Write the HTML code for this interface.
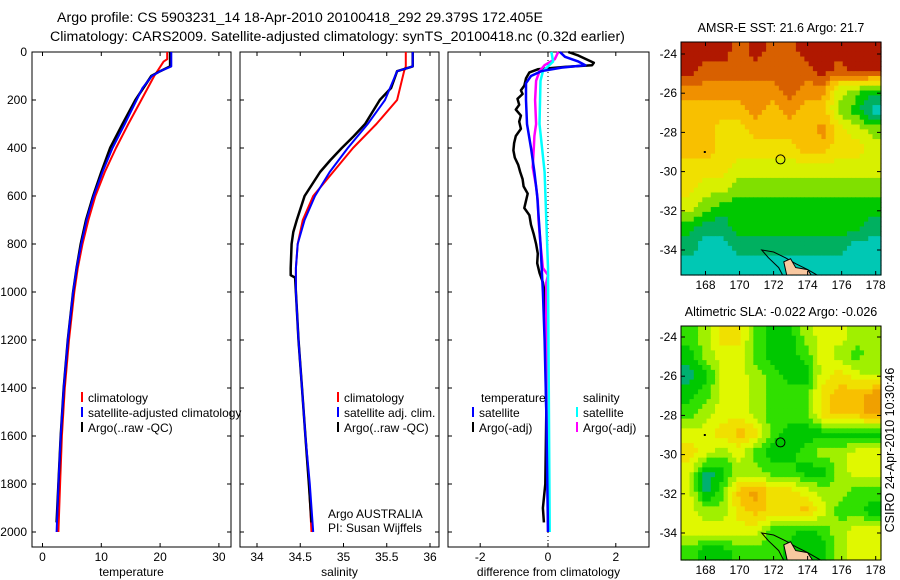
<!DOCTYPE html>
<html><head><meta charset="utf-8"><style>
body{margin:0;background:#fff}
svg{display:block;font-family:"Liberation Sans",sans-serif}
</style></head><body>
<svg id="fig" width="900" height="580" xmlns="http://www.w3.org/2000/svg">
<rect width="900" height="580" fill="#fff"/>
<text x="57" y="22" font-size="14.2">Argo profile: CS 5903231_14 18-Apr-2010 20100418_292 29.379S 172.405E</text>
<text x="50" y="41" font-size="14.2">Climatology: CARS2009. Satellite-adjusted climatology: synTS_20100418.nc (0.32d earlier)</text>
<g id="plots"></g>
<text x="781" y="32" font-size="12.5" text-anchor="middle">AMSR-E SST: 21.6 Argo: 21.7</text>
<text x="781" y="316" font-size="12.5" text-anchor="middle">Altimetric SLA: -0.022 Argo: -0.026</text>
<text transform="translate(894,450) rotate(-90)" font-size="12.5" text-anchor="middle">CSIRO 24-Apr-2010 10:30:46</text>
<text x="328" y="518" font-size="12">Argo AUSTRALIA</text>
<text x="328" y="532" font-size="12">PI: Susan Wijffels</text>
</svg>
<script>
// ---------- data ----------
const tempClimDepth=[0,30,40,70,100,200,300,400,500,600,700,800,900,1000,1200,1400,1600,1800,2000];
const tempClim=[21.2,21.2,20.6,19.8,19.0,16.8,14.6,12.5,10.6,9.0,7.8,6.8,6.0,5.4,4.5,3.8,3.3,3.0,2.7];
const tempSatDepth=[0,60,80,100,150,200,300,400,500,600,700,800,900,1000,1200,1400,1600,1800,2000];
const tempSat=[21.9,21.9,20.0,18.6,17.0,16.0,14.0,11.9,10.2,8.7,7.5,6.6,5.8,5.2,4.3,3.6,3.1,2.7,2.4];
const tempArgoDepth=[0,60,80,100,200,300,400,500,600,700,800,900,1000,1200,1400,1600,1800,1960];
const tempArgo=[21.7,21.7,20.0,18.5,15.8,13.6,11.5,10.0,8.6,7.4,6.5,5.8,5.2,4.3,3.6,3.1,2.7,2.4];

const salClimDepth=[0,60,80,200,300,400,500,600,700,800,900,1000,1200,1400,1600,1800,2000];
const salClim=[35.72,35.72,35.70,35.62,35.38,35.11,34.88,34.65,34.53,34.47,34.45,34.45,34.48,34.52,34.56,34.60,34.63];
const salSatDepth=[0,60,80,200,300,400,500,600,700,800,900,1000,1200,1400,1600,1800,2000];
const salSat=[35.80,35.80,35.62,35.48,35.28,35.05,34.84,34.67,34.55,34.47,34.45,34.45,34.48,34.52,34.56,34.61,34.65];
const salArgoDepth=[0,60,80,150,200,300,350,400,450,500,600,700,750,800,900,930,940,1000,1200,1400,1600,1800,1960];
const salArgo=[35.80,35.80,35.62,35.55,35.42,35.25,35.12,34.98,34.85,34.73,34.55,34.46,34.42,34.40,34.39,34.39,34.44,34.45,34.48,34.52,34.56,34.60,34.63];

const dTempSatDepth=[0,20,40,55,65,80,100,130,200,300,400,500,600,800,1000,1200,1500,2000];
const dTempSat=[0.35,0.5,0.9,1.1,0.4,-0.2,-0.5,-0.65,-0.65,-0.62,-0.5,-0.4,-0.32,-0.22,-0.15,-0.1,-0.05,0.0];
const dTempArgoDepth=[0,15,45,55,62,72,85,110,140,160,175,195,220,240,265,290,320,350,380,410,440,470,500,530,560,590,620,650,680,720,760,800,840,880,920,960,1000,1200,1500,1800,1900,1960];
const dTempArgo=[0.6,0.9,1.35,1.3,0.5,-0.3,-0.55,-0.65,-0.7,-0.8,-0.75,-0.9,-0.85,-0.95,-0.8,-0.85,-0.8,-0.95,-1.0,-1.02,-0.98,-0.88,-0.82,-0.75,-0.72,-0.6,-0.65,-0.7,-0.55,-0.5,-0.42,-0.35,-0.3,-0.32,-0.25,-0.15,-0.1,-0.08,-0.05,-0.08,-0.15,-0.12];
const dSalSatDepth=[0,40,60,80,120,300,500,700,900,2000];
const dSalSat=[0.1,0.15,0.0,-0.15,-0.22,-0.25,-0.1,-0.05,0.0,0.05];
const dSalArgoDepth=[0,30,55,80,120,200,300,350,400,480,560,620,700,800,900,930,960,1000,1200,2000];
const dSalArgo=[0.3,0.2,-0.1,-0.25,-0.35,-0.38,-0.35,-0.4,-0.42,-0.45,-0.35,-0.3,-0.28,-0.22,-0.15,0.0,-0.05,-0.05,-0.05,0.0];

const depthTicks=[0,200,400,600,800,1000,1200,1400,1600,1800,2000];
const tempTicks=[0,10,20,30];
const salTicks=[34,34.5,35,35.5,36];
const diffTicks=[-2,0,2];
const latTicks=[-24,-26,-28,-30,-32,-34];
const lonTicks=[168,170,172,174,176,178];

const sstGrid=["999898899999","988888889899","777777877432","666676766320","665566667543","665555566554","555444444444","544333333333","432222222222","211222222221","100111111100","000000000000"];
const slaGrid=["235521134433","134421124323","014432114543","124432225667","234432225667","445652111111","543421123344","401332211344","402675543322","433565564221","444442212344","211222111344"];
const argoLon=172.405, argoLat=-29.379;

// ---------- helpers ----------
const NS="http://www.w3.org/2000/svg";
const root=document.getElementById('plots');
function mk(tag,attrs,parent){const e=document.createElementNS(NS,tag);for(const k in attrs)e.setAttribute(k,attrs[k]);(parent||root).appendChild(e);return e;}
const Y0=52, Yb=547;
const yD=d=>Y0+d*0.24;
const xT=v=>42.5+v*5.88;
const xS=v=>257+(v-34)*86.5;
const xDf=v=>548+v*33.9;

function frame(x0,x1,name,xticks,xf,xlabel,yLabels){
  const g=mk('g',{});
  
  
  mk('rect',{x:x0,y:Y0,width:x1-x0,height:Yb-Y0,fill:'none',stroke:'#000','stroke-width':1},g);
  depthTicks.forEach(d=>{const y=yD(d);
    mk('line',{x1:x0,x2:x0+4,y1:y,y2:y,stroke:'#000'},g);
    mk('line',{x1:x1,x2:x1-4,y1:y,y2:y,stroke:'#000'},g);
    if(yLabels){const t=mk('text',{x:x0-5,y:y+4,'font-size':12,'text-anchor':'end'},g);t.textContent=d;
      
      }
  });
  xticks.forEach(v=>{const x=xf(v);
    mk('line',{x1:x,x2:x,y1:Y0,y2:Y0+4,stroke:'#000'},g);
    mk('line',{x1:x,x2:x,y1:Yb,y2:Yb-4,stroke:'#000'},g);
    const t=mk('text',{x:x,y:561,'font-size':12,'text-anchor':'middle'},g);t.textContent=v;
    
    
  });
  const t=mk('text',{x:(x0+x1)/2,y:576,'font-size':12,'text-anchor':'middle'},g);t.textContent=xlabel;
  
  
}
function line(depths,vals,xf,color,w,name){
  const pts=depths.map((d,i)=>xf(vals[i]).toFixed(1)+','+yD(d).toFixed(1)).join(' ');
  const p=mk('polyline',{points:pts,fill:'none',stroke:color,'stroke-width':w,'stroke-linejoin':'round'});
  
  
}
function legend(x,y,color,label,name){
  if(color) mk('line',{x1:x,x2:x,y1:y-10,y2:y,stroke:color,'stroke-width':2});
  const t=mk('text',{x:x+(color?6:0),y:y,'font-size':12});t.textContent=label;
  
  
}

// ---------- panels ----------
frame(32,231,'temperature-panel',tempTicks,xT,'temperature',true);
line(tempClimDepth,tempClim,xT,'#f00',2,'temp-climatology-line');
line(tempArgoDepth,tempArgo,xT,'#000',2.5,'temp-argo-line');
line(tempSatDepth,tempSat,xT,'#00f',2,'temp-satellite-line');
legend(82,402,'#f00','climatology','legend-climatology');
legend(82,417,'#00f','satellite-adjusted climatology','legend-satellite-adjusted');
legend(82,432,'#000','Argo(..raw -QC)','legend-argo');

frame(240,439,'salinity-panel',salTicks,xS,'salinity',false);
line(salClimDepth,salClim,xS,'#f00',2,'sal-climatology-line');
line(salArgoDepth,salArgo,xS,'#000',2.5,'sal-argo-line');
line(salSatDepth,salSat,xS,'#00f',2,'sal-satellite-line');
legend(338,402,'#f00','climatology','legend-sal-climatology');
legend(338,417,'#00f','satellite adj. clim.','legend-sal-satellite');
legend(338,432,'#000','Argo(..raw -QC)','legend-sal-argo');

frame(448,649,'difference-panel',diffTicks,xDf,'difference from climatology',false);
mk('line',{x1:xDf(0),x2:xDf(0),y1:Y0,y2:Yb,stroke:'#000','stroke-dasharray':'1,3'});
line(dTempArgoDepth,dTempArgo,xDf,'#000',2.5,'diff-temp-argo-line');
line(dSalArgoDepth,dSalArgo,xDf,'#f0f',2.5,'diff-sal-argo-line');
line(dSalSatDepth,dSalSat,xDf,'#0ff',2.5,'diff-sal-satellite-line');
line(dTempSatDepth,dTempSat,xDf,'#00f',2.5,'diff-temp-satellite-line');
legend(481,402,null,'temperature','legend-temperature-header');
legend(583,402,null,'salinity','legend-salinity-header');
legend(473,417,'#00f','satellite','legend-diff-temp-satellite');
legend(473,432,'#000','Argo(-adj)','legend-diff-temp-argo');
legend(577,417,'#0ff','satellite','legend-diff-sal-satellite');
legend(577,432,'#f0f','Argo(-adj)','legend-diff-sal-argo');

// ---------- maps ----------
const sstCols=['#00c8b4','#00b060','#00c800','#80e000','#d8f000','#f0e000','#f8c000','#f09000','#d86000','#b01800'];
const slaCols=['#00b070','#00c800','#30e000','#a0f000','#e0f800','#f0e000','#f8c000','#f0a000'];
function drawMap(top,bottom,latA,latB,grid,cols,name){
  const L=681,R=881;
  const ly=v=>latA+(v-(-24))/(-34-(-24))*(latB-latA);
  const lx=v=>705.5+(v-168)*17.02;
  const g=mk('g',{});
  
  
  const nx=47,ny=48,nr=grid.length,nc=grid[0].length;
  const val=(r,c)=>+grid[Math.max(0,Math.min(nr-1,r))][Math.max(0,Math.min(nc-1,c))];
  const cw=(R-L)/nx, ch=(bottom-top)/ny;
  for(let i=0;i<ny;i++)for(let j=0;j<nx;j++){
    const fr=(i+0.5)/ny*nr-0.5, fc=(j+0.5)/nx*nc-0.5;
    const r0=Math.floor(fr),c0=Math.floor(fc),ar=fr-r0,ac=fc-c0;
    const v=(1-ar)*((1-ac)*val(r0,c0)+ac*val(r0,c0+1))+ar*((1-ac)*val(r0+1,c0)+ac*val(r0+1,c0+1));
    const k=Math.max(0,Math.min(cols.length-1,Math.round(v)));
    mk('rect',{x:(L+j*cw).toFixed(2),y:(top+i*ch).toFixed(2),width:(cw+0.6).toFixed(2),height:(ch+0.6).toFixed(2),fill:cols[k]},g);
  }
  const P=a=>a.map(p=>lx(p[0]).toFixed(1)+','+ly(p[1]).toFixed(1)).join(' ');
  const clip='clip-'+name;
  const cp=mk('clipPath',{id:clip},g);mk('rect',{x:L,y:top,width:R-L,height:bottom-top},cp);
  const cg=mk('g',{'clip-path':'url(#'+clip+')'},g);
  mk('polygon',{points:P([[171.3,-34.0],[172.0,-34.1],[172.7,-34.4],[173.3,-34.7],[174.0,-35.0],[174.8,-35.4],[172.6,-35.4],[172.3,-34.9],[171.7,-34.4]]),fill:'none',stroke:'#000','stroke-width':1},cg);
  const land=mk('polygon',{points:P([[172.6,-34.6],[173.0,-34.45],[173.3,-34.9],[174.0,-35.0],[174.3,-35.4],[172.8,-35.4]]),fill:'#f8c8a0',stroke:'#000','stroke-width':1},cg);
  
  
  mk('rect',{x:lx(167.9),y:ly(-29.0)-1,width:2,height:2,fill:'#000'},g);
  const c=mk('circle',{cx:lx(argoLon),cy:ly(argoLat),r:4.5,fill:'none',stroke:'#000','stroke-width':1},g);
  
  
  mk('rect',{x:L,y:top,width:R-L,height:bottom-top,fill:'none',stroke:'#000'},g);
  latTicks.forEach(v=>{const y=ly(v);
    mk('line',{x1:L,x2:L+4,y1:y,y2:y,stroke:'#000'},g);
    mk('line',{x1:R,x2:R-4,y1:y,y2:y,stroke:'#000'},g);
    const t=mk('text',{x:L-4,y:y+4,'font-size':12,'text-anchor':'end'},g);t.textContent=v;
    
    });
  lonTicks.forEach(v=>{const x=lx(v);
    mk('line',{x1:x,x2:x,y1:top,y2:top+4,stroke:'#000'},g);
    mk('line',{x1:x,x2:x,y1:bottom,y2:bottom-4,stroke:'#000'},g);
    const t=mk('text',{x:x,y:bottom+14,'font-size':12,'text-anchor':'middle'},g);t.textContent=v;
    
    });
}
drawMap(42,275,54,250,sstGrid,sstCols,'sst-map');
drawMap(326,560,337,533,slaGrid,slaCols,'sla-map');
</script>
</body></html>
